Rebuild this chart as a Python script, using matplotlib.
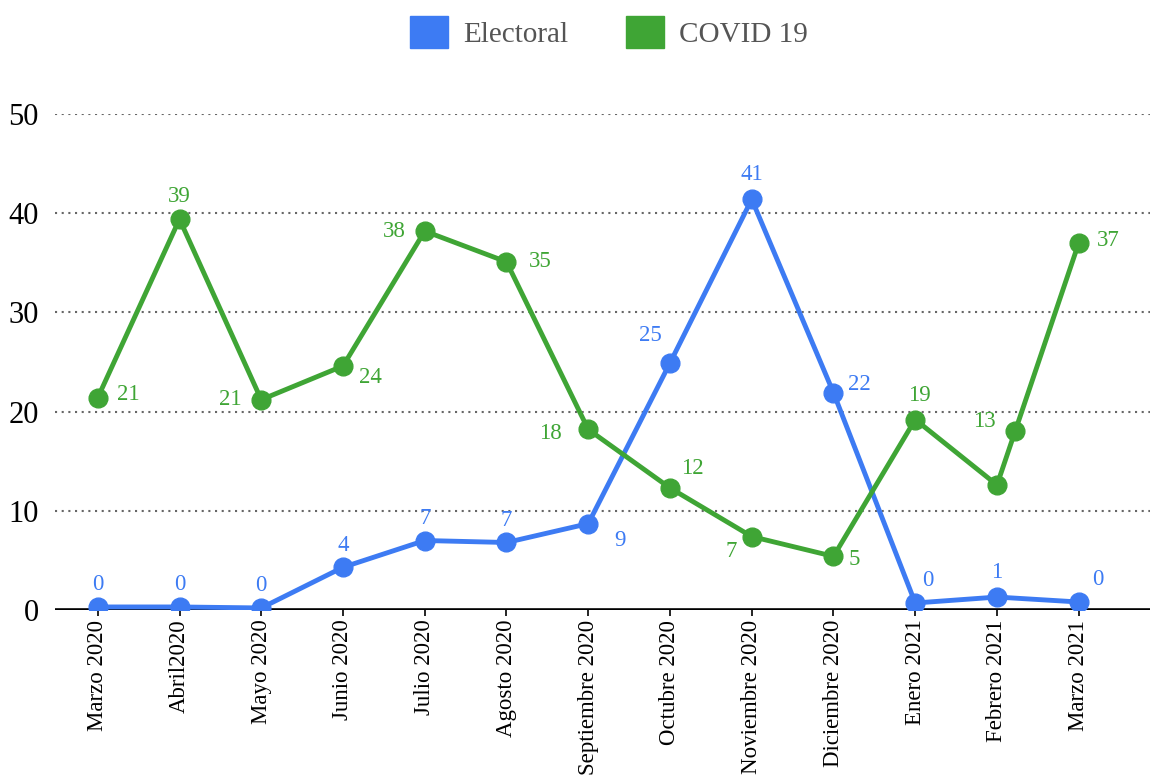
"""
Monthly counts: Electoral vs COVID 19 topics.
"""

import matplotlib

matplotlib.use("Agg")
import matplotlib.pyplot as plt
from matplotlib.patches import Patch

plt.rcParams["font.family"] = ["Liberation Serif", "DejaVu Serif"]

months = [
    "Marzo 2020", "Abril2020", "Mayo 2020", "Junio 2020", "Julio 2020",
    "Agosto 2020", "Septiembre 2020", "Octubre 2020", "Noviembre 2020",
    "Diciembre 2020", "Enero 2021", "Febrero 2021", "Marzo 2021",
]
electoral = [0.3, 0.3, 0.2, 4.3, 7.0, 6.8, 8.7, 24.9, 41.4, 21.9, 0.7, 1.3, 0.8]
electoral_labels = ["0", "0", "0", "4", "7", "7", "9", "25", "41", "22", "0", "1", "0"]
covid = [21.4, 39.4, 21.2, 24.6, 38.2, 35.1, 18.2, 12.3, 7.4, 5.4, 19.2, 12.6, 37.0]
covid_labels = ["21", "39", "21", "24", "38", "35", "18", "12", "7", "5", "19", "13", "37"]
# stray marker sitting on the last green segment
covid_extra_x = [11.22]
covid_extra_y = [18.0]
y_ticks = [0, 10, 20, 30, 40, 50]

BLUE = "#3d7bf3"
GREEN = "#3fa535"

# label offsets (points) for each data label
electoral_off = [(0, 16), (0, 16), (0, 16), (0, 16), (0, 16), (0, 16), (23, -12),
                 (-14, 20), (0, 18), (19, 6), (9, 16), (0, 18), (14, 16)]
covid_off = [(22, 2), (0, 16), (-22, 0), (20, -8), (-22, 0), (24, 0), (-27, -3),
             (16, 14), (-15, -11), (15, -2), (3, 17), (-9, 46), (21, 2)]

fig = plt.figure(figsize=(11.51, 7.76), dpi=100)
ax = fig.add_axes([0.048, 0.214, 0.951, 0.639])

x = list(range(len(months)))
ax.plot(x, electoral, color=BLUE, lw=3.5, marker="o", ms=13.5, zorder=3)
ax.plot(x, covid, color=GREEN, lw=3.5, marker="o", ms=13.5, zorder=3)
ax.plot(covid_extra_x, covid_extra_y, color=GREEN, lw=0, marker="o", ms=13.5, zorder=3)

for xi, yi, lab, off in zip(x, electoral, electoral_labels, electoral_off):
    ax.annotate(lab, (xi, yi), xytext=off, textcoords="offset points",
                ha="center", va="center", color=BLUE, fontsize=16.5)
for xi, yi, lab, off in zip(x, covid, covid_labels, covid_off):
    ax.annotate(lab, (xi, yi), xytext=off, textcoords="offset points",
                ha="center", va="center", color=GREEN, fontsize=16.5)

ax.set_xlim(-0.52, 12.87)
ax.set_ylim(0, 50)
ax.set_yticks(y_ticks)
ax.set_yticklabels([str(t) for t in y_ticks], fontsize=22)
ax.set_xticks(x)
ax.set_xticklabels(months, rotation=90, fontsize=16.5)
ax.tick_params(axis="y", length=0, pad=12)
ax.tick_params(axis="x", length=4, width=1.2, color="black", pad=3)

for t in y_ticks[1:]:
    ax.axhline(t, color="#666666", lw=1.5, ls=(0, (1, 2.2)), zorder=1)
ax.axhline(0, color="black", lw=2.6, zorder=2)
for s in ax.spines.values():
    s.set_visible(False)

handles = [Patch(color=BLUE, label="Electoral"), Patch(color=GREEN, label="COVID 19")]
fig.legend(handles=handles, loc="upper center", bbox_to_anchor=(0.529, 1.013), ncol=2,
           frameon=False, fontsize=21, labelcolor="#555555", handlelength=1.3,
           handleheight=1.3, handletextpad=0.5, columnspacing=2.0)

fig.savefig("out.png", dpi=100)
